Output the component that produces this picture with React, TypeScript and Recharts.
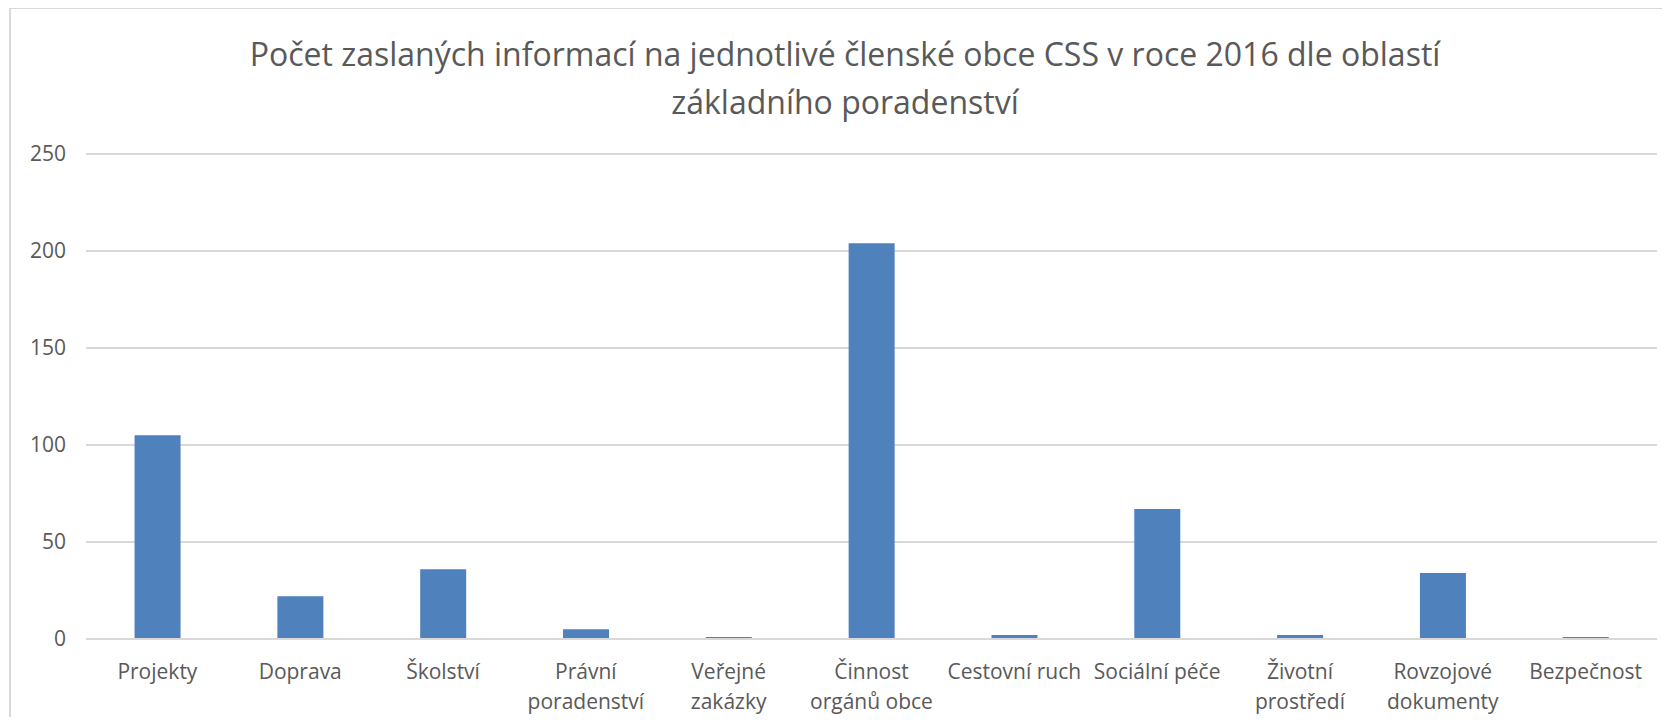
import { BarChart, Bar, XAxis, YAxis, CartesianGrid } from "recharts"

const categories = [
  "Projekty",
  "Doprava",
  "Školství",
  "Právní\nporadenství",
  "Veřejné\nzakázky",
  "Činnost\norgánů obce",
  "Cestovní ruch",
  "Sociální péče",
  "Životní\nprostředí",
  "Rovzojové\ndokumenty",
  "Bezpečnost",
]
const counts = [105, 22, 36, 5, 1, 204, 2, 67, 2, 34, 1]
const yTicks = [0, 50, 100, 150, 200, 250]
const titleLines = [
  "Počet zaslaných informací na jednotlivé členské obce CSS v roce 2016 dle oblastí",
  "základního poradenství",
]

const data = categories.map((name, i) => ({ name, value: counts[i] }))

const font = "'Open Sans', sans-serif"
const textColor = "#595959"
const gridColor = "#d9d9d9"

function CategoryTick({ x, y, payload }: any) {
  const lines = String(payload.value).split("\n")
  return (
    <text x={x} y={y} textAnchor="middle" fill={textColor} fontFamily={font} fontSize={21}>
      {lines.map((line, i) => (
        <tspan key={i} x={x} dy={i === 0 ? 32 : 30}>
          {line}
        </tspan>
      ))}
    </text>
  )
}

export default function App() {
  return (
    <div style={{ position: "relative", width: 1670, height: 725, margin: -8, overflow: "hidden", background: "#fff" }}>
      <div
        style={{
          position: "absolute",
          left: 9,
          top: 7,
          width: 1700,
          height: 760,
          border: `2px solid ${gridColor}`,
        }}
      />
      <div
        style={{
          position: "absolute",
          left: 0,
          width: 1690,
          top: 30,
          textAlign: "center",
          fontFamily: font,
          fontSize: 32,
          lineHeight: "48px",
          color: textColor,
        }}
      >
        {titleLines.map((l) => (
          <div key={l}>{l}</div>
        ))}
      </div>
      <div style={{ position: "absolute", left: 0, top: 0 }}>
        <BarChart
          width={1670}
          height={725}
          data={data}
          margin={{ top: 154, right: 13, bottom: 6, left: 0 }}
          barCategoryGap="34%"
        >
          <CartesianGrid vertical={false} stroke={gridColor} strokeWidth={2} />
          <XAxis
            dataKey="name"
            interval={0}
            height={80}
            tickLine={false}
            axisLine={{ stroke: gridColor, strokeWidth: 2 }}
            tick={<CategoryTick />}
          />
          <YAxis
            width={86}
            domain={[0, 250]}
            ticks={yTicks}
            tickLine={false}
            axisLine={false}
            tickSize={0}
            tickMargin={20}
            tick={{ fill: textColor, fontFamily: font, fontSize: 21 }}
          />
          <Bar dataKey="value" fill="#4f81bd" isAnimationActive={false} />
        </BarChart>
      </div>
    </div>
  )
}
